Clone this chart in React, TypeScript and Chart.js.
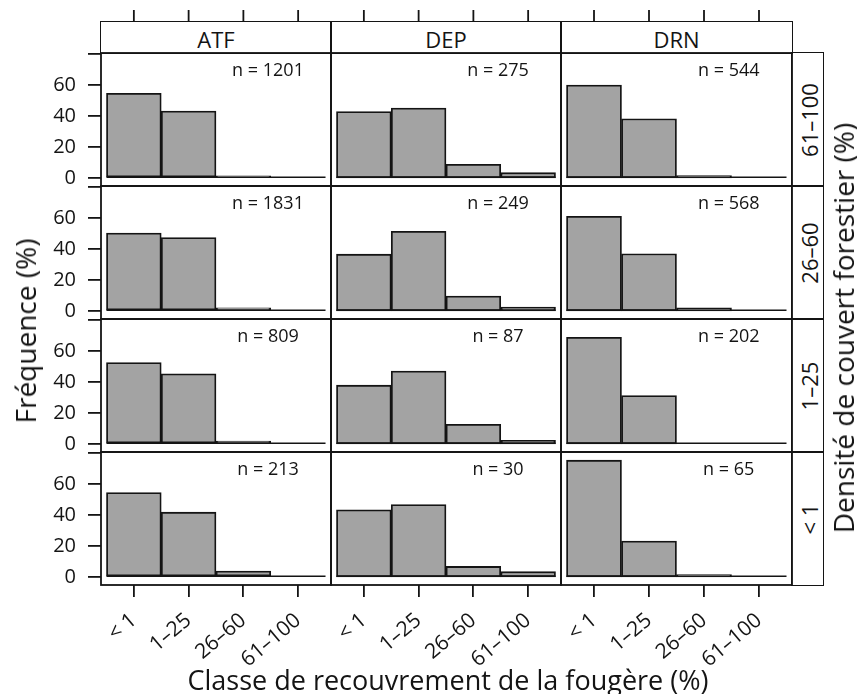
import React, { useEffect, useRef } from "react";
import { Chart, registerables } from "chart.js";

Chart.register(...registerables);

const FONT = "'Open Sans', 'Noto Sans', sans-serif";

// ---- data ----
const fernClasses = ["< 1", "1–25", "26–60", "61–100"];
const classPositions = [1, 2, 3, 4];
const sites = ["ATF", "DEP", "DRN"];
const coverClasses = ["61–100", "26–60", "1–25", "< 1"];
const yTickValues = [0, 20, 40, 60, 80];

const atfCover61 = [54.6, 43.1, 1.3, 0];
const depCover61 = [42.9, 45.1, 8.7, 3.3];
const drnCover61 = [60.0, 38.2, 1.5, 0];
const atfCover26 = [50.3, 47.3, 1.9, 0];
const depCover26 = [36.6, 51.4, 9.6, 2.4];
const drnCover26 = [61.1, 36.9, 1.9, 0];
const atfCover1 = [52.5, 45.2, 1.7, 0];
const depCover1 = [37.9, 47.1, 12.6, 2.3];
const drnCover1 = [68.8, 31.2, 0, 0];
const atfCoverLt1 = [54.5, 41.8, 3.7, 0];
const depCoverLt1 = [43.3, 46.7, 6.7, 3.3];
const drnCoverLt1 = [75.4, 23.1, 1.5, 0];

const nCover61 = [1201, 275, 544];
const nCover26 = [1831, 249, 568];
const nCover1 = [809, 87, 202];
const nCoverLt1 = [213, 30, 65];

const panelValues = [
  [atfCover61, depCover61, drnCover61],
  [atfCover26, depCover26, drnCover26],
  [atfCover1, depCover1, drnCover1],
  [atfCoverLt1, depCoverLt1, drnCoverLt1],
];
const panelCounts = [nCover61, nCover26, nCover1, nCoverLt1];

// ---- layout ----
const COL_X = [101, 331, 561, 792];
const ROW_Y = [53, 186, 319, 452, 585];
const STRIP_TOP = 22;
const STRIP_RIGHT = 823;
const TICK_LEN = 12;
const LEFT_AXIS = 101;
const TOP_AXIS = 43;
const BOTTOM_AXIS = 95;
const PAD = 40;
const LINE = 1.8;
const INK = "#141414";

function Panel({ row, col }: { row: number; col: number }) {
  const ref = useRef<HTMLCanvasElement | null>(null);
  const left = COL_X[col];
  const right = COL_X[col + 1];
  const top = ROW_Y[row];
  const bottom = ROW_Y[row + 1];
  const isLeft = col === 0;
  const isTop = row === 0;
  const isBottom = row === 3;
  const extL = isLeft ? LEFT_AXIS : 0;
  const extT = isTop ? TOP_AXIS : 0;
  const extB = isBottom ? BOTTOM_AXIS : 0;
  const cw = right - left + extL + 2 * PAD;
  const ch = bottom - top + extT + extB + 2 * PAD;

  useEffect(() => {
    const values = panelValues[row][col];
    const n = panelCounts[row][col];
    const panelPlugin = {
      id: "panelDecor",
      afterDatasetsDraw(chart: any) {
        const { ctx, chartArea: a, scales } = chart;
        const x = scales.x;
        const y = scales.y;
        ctx.save();
        ctx.strokeStyle = INK;
        ctx.lineWidth = 1.6;
        ctx.beginPath();
        const y0 = y.getPixelForValue(0) - 0.6;
        ctx.moveTo(x.getPixelForValue(0.5), y0);
        ctx.lineTo(x.getPixelForValue(4.5), y0);
        ctx.stroke();
        ctx.lineWidth = LINE;
        ctx.strokeRect(a.left, a.top, a.right - a.left, a.bottom - a.top);
        ctx.fillStyle = INK;
        ctx.font = `18px ${FONT}`;
        ctx.textAlign = "center";
        ctx.textBaseline = "middle";
        ctx.fillText(`n = ${n}`, x.getPixelForValue(3.45), y.getPixelForValue(69));
        if (isTop) {
          ctx.lineWidth = LINE;
          const stripH = ROW_Y[0] - STRIP_TOP;
          for (const v of classPositions) {
            const px = x.getPixelForValue(v);
            ctx.beginPath();
            ctx.moveTo(px, a.top - stripH);
            ctx.lineTo(px, a.top - stripH - TICK_LEN);
            ctx.stroke();
          }
        }
        ctx.restore();
      },
    };

    const chart = new Chart(ref.current as HTMLCanvasElement, {
      type: "bar",
      data: {
        datasets: [
          {
            data: classPositions.map((p, i) => ({ x: p, y: values[i] })),
            backgroundColor: "#a3a3a3",
            borderColor: INK,
            borderWidth: 1.8,
            borderSkipped: false,
            barPercentage: 1,
            categoryPercentage: 1,
          },
        ],
      },
      options: {
        animation: false,
        responsive: false,
        devicePixelRatio: 1,
        events: [],
        layout: { padding: { left: PAD, right: PAD, top: PAD + extT, bottom: PAD } },
        plugins: { legend: { display: false }, tooltip: { enabled: false } },
        scales: {
          x: {
            type: "linear",
            min: 0.4,
            max: 4.6,
            offset: false,
            display: isBottom,
            afterBuildTicks: (s: any) => {
              s.ticks = classPositions.map((v) => ({ value: v }));
            },
            afterFit: (s: any) => {
              s.height = extB;
            },
            ticks: {
              autoSkip: false,
              minRotation: 40,
              maxRotation: 40,
              padding: 11,
              color: INK,
              font: { family: FONT, size: 21 },
              callback: (v: any) => fernClasses[classPositions.indexOf(Number(v))] ?? "",
            },
            grid: {
              offset: false,
              drawOnChartArea: false,
              drawTicks: true,
              tickLength: TICK_LEN,
              color: INK,
              lineWidth: LINE,
            },
            border: { display: false },
          },
          y: {
            type: "linear",
            min: -5.3,
            max: 80.7,
            display: isLeft,
            afterBuildTicks: (s: any) => {
              s.ticks = yTickValues.map((v) => ({ value: v }));
            },
            afterFit: (s: any) => {
              s.width = extL;
            },
            ticks: {
              padding: 12,
              color: INK,
              font: { family: FONT, size: 20 },
              callback: (v: any) => (Number(v) === 80 ? "" : String(v)),
            },
            grid: {
              drawOnChartArea: false,
              drawTicks: true,
              tickLength: 13,
              color: INK,
              lineWidth: LINE,
            },
            border: { display: false },
          },
        },
      },
      plugins: [panelPlugin],
    } as any);
    return () => chart.destroy();
  }, []);

  return (
    <canvas
      ref={ref}
      width={cw}
      height={ch}
      style={{
        position: "absolute",
        left: left - extL - PAD,
        top: top - extT - PAD,
        width: cw,
        height: ch,
      }}
    />
  );
}

const textBase: React.CSSProperties = {
  position: "absolute",
  fontFamily: FONT,
  color: INK,
  whiteSpace: "nowrap",
  lineHeight: 1,
};

function CenterText({
  cx,
  cy,
  size,
  rotate,
  children,
}: {
  cx: number;
  cy: number;
  size: number;
  rotate?: boolean;
  children: React.ReactNode;
}) {
  return (
    <div
      style={{
        ...textBase,
        left: cx,
        top: cy,
        fontSize: size,
        transform: `translate(-50%, -50%)${rotate ? " rotate(-90deg)" : ""}`,
      }}
    >
      {children}
    </div>
  );
}

export default function App() {
  const stripBoxes: React.ReactNode[] = [];
  sites.forEach((s, c) => {
    const l = COL_X[c];
    const r = COL_X[c + 1];
    stripBoxes.push(
      <div
        key={"ts" + c}
        style={{
          position: "absolute",
          boxSizing: "border-box",
          left: l - LINE / 2,
          top: STRIP_TOP - LINE / 2,
          width: r - l + LINE,
          height: ROW_Y[0] - STRIP_TOP + LINE,
          border: `${LINE}px solid ${INK}`,
        }}
      />
    );
    stripBoxes.push(
      <CenterText key={"tt" + c} cx={(l + r) / 2} cy={(STRIP_TOP + ROW_Y[0]) / 2 + 1} size={22}>
        {s}
      </CenterText>
    );
  });
  coverClasses.forEach((s, r) => {
    const t = ROW_Y[r];
    const b = ROW_Y[r + 1];
    const l = COL_X[3];
    stripBoxes.push(
      <div
        key={"rs" + r}
        style={{
          position: "absolute",
          boxSizing: "border-box",
          left: l - LINE / 2,
          top: t - LINE / 2,
          width: STRIP_RIGHT - l + LINE,
          height: b - t + LINE,
          border: `${LINE}px solid ${INK}`,
        }}
      />
    );
    stripBoxes.push(
      <CenterText key={"rt" + r} cx={(l + STRIP_RIGHT) / 2 + 1} cy={(t + b) / 2} size={22} rotate>
        {s}
      </CenterText>
    );
  });

  const panels: React.ReactNode[] = [];
  for (let r = 0; r < 4; r++) {
    for (let c = 0; c < 3; c++) {
      panels.push(<Panel key={`p${r}${c}`} row={r} col={c} />);
    }
  }

  return (
    <div
      style={{
        position: "absolute",
        left: 0,
        top: 0,
        width: 857,
        height: 694,
        background: "#ffffff",
        overflow: "hidden",
      }}
    >
      {stripBoxes}
      {panels}
      <CenterText cx={448} cy={679} size={27}>
        Classe de recouvrement de la fougère (%)
      </CenterText>
      <CenterText cx={25} cy={331} size={28} rotate>
        Fréquence (%)
      </CenterText>
      <CenterText cx={843} cy={328} size={28} rotate>
        Densité de couvert forestier (%)
      </CenterText>
    </div>
  );
}
